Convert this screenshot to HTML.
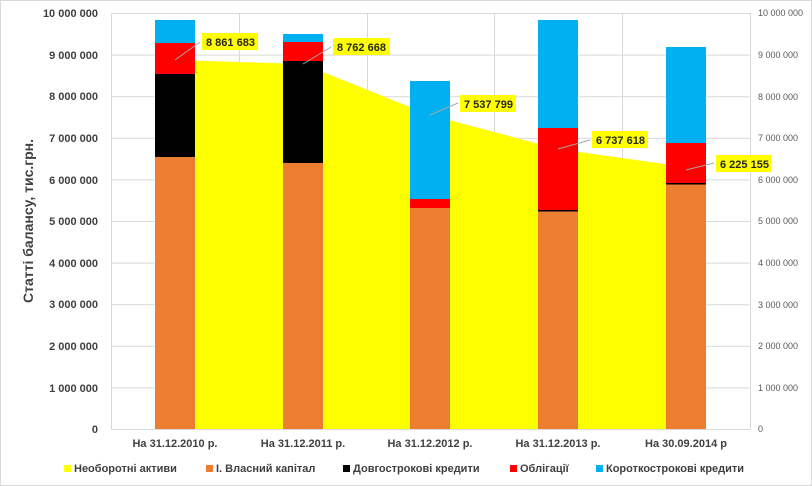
<!DOCTYPE html>
<html><head><meta charset="utf-8"><style>
html,body{margin:0;padding:0;background:#fff;}
svg{display:block;font-family:"Liberation Sans","DejaVu Sans",sans-serif;}
</style></head><body>
<svg width="812" height="486" viewBox="0 0 812 486" xmlns="http://www.w3.org/2000/svg">
<rect x="0.5" y="0.5" width="811" height="485" fill="#fff" stroke="#d9d9d9"/>
<g stroke="#d9d9d9" stroke-width="1">
<line x1="111" y1="13.5" x2="750" y2="13.5"/>
<line x1="111" y1="55.1" x2="750" y2="55.1"/>
<line x1="111" y1="96.7" x2="750" y2="96.7"/>
<line x1="111" y1="138.3" x2="750" y2="138.3"/>
<line x1="111" y1="179.9" x2="750" y2="179.9"/>
<line x1="111" y1="221.5" x2="750" y2="221.5"/>
<line x1="111" y1="263.1" x2="750" y2="263.1"/>
<line x1="111" y1="304.7" x2="750" y2="304.7"/>
<line x1="111" y1="346.3" x2="750" y2="346.3"/>
<line x1="111" y1="387.9" x2="750" y2="387.9"/>
<line x1="111.5" y1="13" x2="111.5" y2="429"/>
<line x1="239.5" y1="13" x2="239.5" y2="429"/>
<line x1="367.5" y1="13" x2="367.5" y2="429"/>
<line x1="494.5" y1="13" x2="494.5" y2="429"/>
<line x1="622.5" y1="13" x2="622.5" y2="429"/>
<line x1="750.5" y1="13" x2="750.5" y2="429"/>
<line x1="111" y1="429.5" x2="750" y2="429.5"/>
</g>
<polygon points="175,429 175,60 303,64 430,115 558,149 686,167 686,429" fill="#ffff00"/>
<g>
<rect x="155" y="157" width="40" height="272" fill="#ed7d31"/>
<rect x="155" y="74" width="40" height="83" fill="#000"/>
<rect x="155" y="43" width="40" height="31" fill="#ff0000"/>
<rect x="155" y="20" width="40" height="23" fill="#00b0f0"/>

<rect x="283" y="163" width="40" height="266" fill="#ed7d31"/>
<rect x="283" y="61" width="40" height="102" fill="#000"/>
<rect x="283" y="42" width="40" height="19" fill="#ff0000"/>
<rect x="283" y="34" width="40" height="8" fill="#00b0f0"/>

<rect x="410" y="208" width="40" height="221" fill="#ed7d31"/>
<rect x="410" y="199" width="40" height="9" fill="#ff0000"/>
<rect x="410" y="81" width="40" height="118" fill="#00b0f0"/>

<rect x="538" y="211" width="40" height="218" fill="#ed7d31"/>
<rect x="538" y="210" width="40" height="1.5" fill="#000"/>
<rect x="538" y="128" width="40" height="82" fill="#ff0000"/>
<rect x="538" y="20" width="40" height="108" fill="#00b0f0"/>

<rect x="666" y="184" width="40" height="245" fill="#ed7d31"/>
<rect x="666" y="183" width="40" height="1.5" fill="#000"/>
<rect x="666" y="143" width="40" height="40" fill="#ff0000"/>
<rect x="666" y="47" width="40" height="96" fill="#00b0f0"/>
</g>
<g stroke="#a6a6a6" stroke-width="1">
<line x1="175" y1="60" x2="200" y2="42"/>
<line x1="303" y1="64" x2="331" y2="47"/>
<line x1="430" y1="115" x2="458" y2="103"/>
<line x1="558" y1="149" x2="590" y2="140"/>
<line x1="686" y1="170" x2="714" y2="163"/>
</g>
<g font-size="11" font-weight="bold" fill="#262626">
<rect x="202" y="33" width="56" height="17" fill="#ffff00"/><text x="206" y="46">8 861 683</text>
<rect x="333" y="38" width="57" height="17" fill="#ffff00"/><text x="337" y="51">8 762 668</text>
<rect x="460" y="95" width="56" height="17" fill="#ffff00"/><text x="464" y="108">7 537 799</text>
<rect x="592" y="131" width="56" height="17" fill="#ffff00"/><text x="596" y="144">6 737 618</text>
<rect x="716" y="155" width="55" height="17" fill="#ffff00"/><text x="720" y="168">6 225 155</text>
</g>
<g font-size="11" font-weight="bold" fill="#404040" text-anchor="end">
<text x="98" y="17">10 000 000</text>
<text x="98" y="59">9 000 000</text>
<text x="98" y="100">8 000 000</text>
<text x="98" y="142">7 000 000</text>
<text x="98" y="184">6 000 000</text>
<text x="98" y="225">5 000 000</text>
<text x="98" y="267">4 000 000</text>
<text x="98" y="308">3 000 000</text>
<text x="98" y="350">2 000 000</text>
<text x="98" y="392">1 000 000</text>
<text x="98" y="433">0</text>
</g>
<g font-size="9" fill="#595959">
<text x="758" y="16">10 000 000</text>
<text x="758" y="58">9 000 000</text>
<text x="758" y="100">8 000 000</text>
<text x="758" y="141">7 000 000</text>
<text x="758" y="183">6 000 000</text>
<text x="758" y="224">5 000 000</text>
<text x="758" y="266">4 000 000</text>
<text x="758" y="308">3 000 000</text>
<text x="758" y="349">2 000 000</text>
<text x="758" y="391">1 000 000</text>
<text x="758" y="432">0</text>
</g>
<text transform="translate(33,221) rotate(-90)" text-anchor="middle" font-size="14" font-weight="bold" fill="#404040">Статті балансу, тис.грн.</text>
<g font-size="11" font-weight="bold" fill="#404040" text-anchor="middle">
<text x="175" y="447">На 31.12.2010 р.</text>
<text x="303" y="447">На 31.12.2011 р.</text>
<text x="430" y="447">На 31.12.2012 р.</text>
<text x="558" y="447">На 31.12.2013 р.</text>
<text x="686" y="447">На 30.09.2014 р</text>
</g>
<g font-size="11" font-weight="bold" fill="#404040">
<rect x="64" y="465" width="7" height="7" fill="#ffff00"/><text x="74" y="472">Необоротні активи</text>
<rect x="206" y="465" width="7" height="7" fill="#ed7d31"/><text x="216" y="472">І. Власний капітал</text>
<rect x="343" y="465" width="7" height="7" fill="#000"/><text x="353" y="472">Довгострокові кредити</text>
<rect x="510" y="465" width="7" height="7" fill="#ff0000"/><text x="520" y="472">Облігації</text>
<rect x="596" y="465" width="7" height="7" fill="#00b0f0"/><text x="606" y="472">Короткострокові кредити</text>
</g>
</svg>
</body></html>
